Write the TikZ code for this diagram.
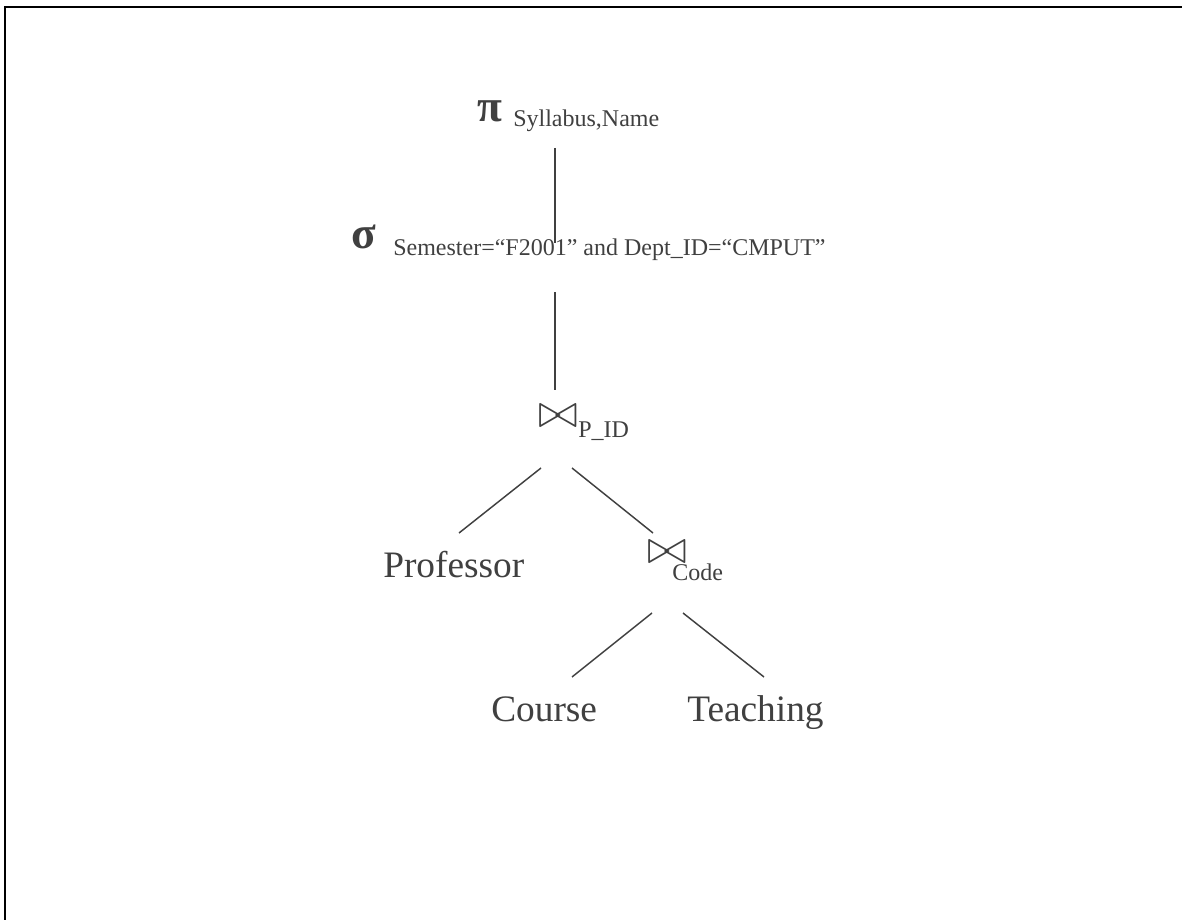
\documentclass[tikz,border=0pt]{standalone}
\usepackage{amssymb}
\usepackage{fontspec}
\setmainfont{Liberation Serif}
\usetikzlibrary{positioning}
\definecolor{inkgray}{RGB}{64,64,64}
\tikzset{
  treeline/.style={draw=inkgray, line width=1.1pt},
  opsym/.style={text=inkgray, font=\fontsize{34}{34}\selectfont\bfseries,
                inner sep=0pt, anchor=base},
  subtext/.style={text=inkgray, font=\fontsize{18}{18}\selectfont,
                  inner sep=0pt, anchor=base west},
  relname/.style={text=inkgray, font=\fontsize{28}{28}\selectfont,
                  inner sep=0pt, anchor=base west},
  joinsym/.style={text=inkgray, inner sep=0pt}
}
\newcommand{\joinop}{\scalebox{1.45}{\fontsize{24}{24}\selectfont$\bowtie$}}

\begin{document}
\begin{tikzpicture}[x=0.75pt, y=-0.75pt]
  \useasboundingbox (0,0) rectangle (1182,920);
  % frame
  \draw[line width=2.2pt] (5,920) -- (5,7) -- (1182,7);
  % operators
  \node[opsym] (proj) at (490,122) {π};
  \node[subtext] (projattr) at (513,127) {Syllabus,Name};
  \node[opsym] (sel) at (364,248) {σ};
  \node[subtext] (selcond) at (393,255) {Semester=“F2001” and Dept\_ID=“CMPUT”};
  \node[joinsym] (pjoin) at (558,416) {\joinop};
  \node[subtext] (pjoinattr) at (578,437) {P\_ID};
  \node[joinsym] (cjoin) at (667,552) {\joinop};
  \node[subtext] (cjoinattr) at (672,580) {Code};
  % relations
  \node[relname] (prof) at (383,577) {Professor};
  \node[relname] (course) at (491,721) {Course};
  \node[relname] (teach) at (687,721) {Teaching};
  % line ends
  \coordinate (projout) at (555,148);  \coordinate (selin) at (555,243);
  \coordinate (selout) at (555,292);   \coordinate (pjoinin) at (555,390);
  \coordinate (pjoinl) at (541,468);   \coordinate (profin) at (459,533);
  \coordinate (pjoinr) at (572,468);   \coordinate (cjoinin) at (653,533);
  \coordinate (cjoinl) at (652,613);   \coordinate (coursein) at (572,677);
  \coordinate (cjoinr) at (683,613);   \coordinate (teachin) at (764,677);
  \foreach \a/\b in {projout/selin, selout/pjoinin, pjoinl/profin,
                     pjoinr/cjoinin, cjoinl/coursein, cjoinr/teachin}
    \draw[treeline] (\a) -- (\b);
\end{tikzpicture}
\end{document}
